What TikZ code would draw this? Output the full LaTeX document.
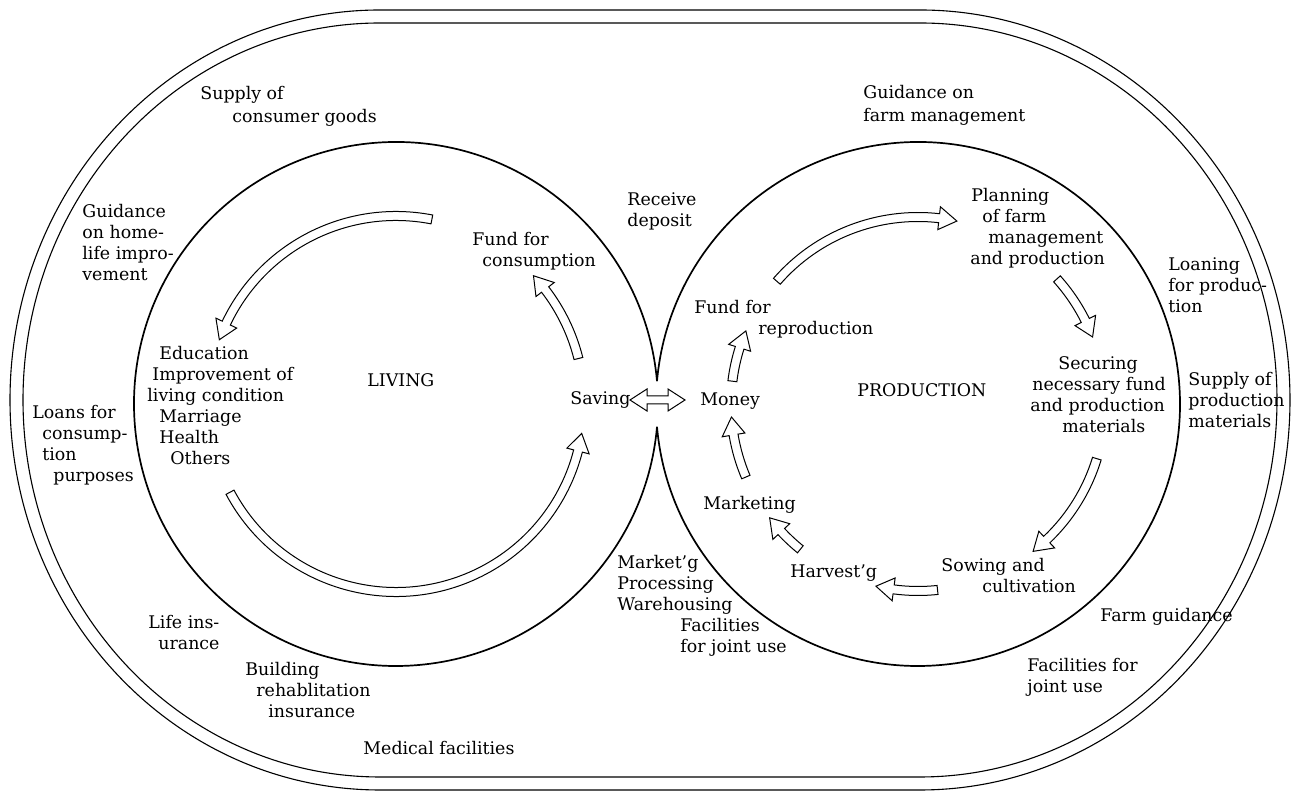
\documentclass[tikz,border=0pt]{standalone}
\usepackage{fontspec}
\setmainfont{DejaVu Serif}
\usetikzlibrary{calc}

% hollow block arrow running along an arc: centre, radius, start angle, end angle (head)
\newcommand\cyclearrow[4]{%
  \pgfmathsetmacro\arrS{#3}%
  \pgfmathsetmacro\arrE{#4}%
  \pgfmathsetmacro\arrB{#4-sign(#4-#3)*18/#2*180/pi}%
  \pgfmathsetmacro\arrRo{#2+4.5}%
  \pgfmathsetmacro\arrRi{#2-4.5}%
  \pgfmathsetmacro\arrHo{#2+11.5}%
  \pgfmathsetmacro\arrHi{#2-11.5}%
  \draw[flow] ($(#1)+(\arrS:\arrRo)$) arc[start angle=\arrS, end angle=\arrB, radius=\arrRo]
    -- ($(#1)+(\arrB:\arrHo)$) -- ($(#1)+(\arrE:#2)$) -- ($(#1)+(\arrB:\arrHi)$)
    -- ($(#1)+(\arrB:\arrRi)$) arc[start angle=\arrB, end angle=\arrS, radius=\arrRi] -- cycle;
}

\begin{document}
\begin{tikzpicture}[x=0.5pt, y=0.5pt,
  % multi-line labels are placed by the baseline of their last line
  lbl/.style={inner sep=0pt, anchor=base west, align=left,
              font=\fontsize{8.7}{10.5}\selectfont},
  ring/.style={line width=0.85pt},
  rim/.style={line width=0.55pt},
  flow/.style={line width=0.5pt, fill=white, line join=miter}]
\useasboundingbox (0,0) rectangle (1298,796);

% centres of the two cycles
\coordinate (cl) at (396,392);
\coordinate (cp) at (918,392);

% double outer border
\draw[rim] (380,786) -- (920,786)
  arc[start angle=90, end angle=-90, x radius=370, y radius=390]
  -- (380,6)
  arc[start angle=270, end angle=90, x radius=370, y radius=390] -- cycle;
\draw[rim] (380,773) -- (920,773)
  arc[start angle=90, end angle=-90, x radius=357, y radius=377]
  -- (380,19)
  arc[start angle=270, end angle=90, x radius=357, y radius=377] -- cycle;

% the two cycles, meeting in a cusp
\draw[ring] (cl) ++(5:262) arc[start angle=5, end angle=355, radius=262];
\draw[ring] (cp) ++(185:262) arc[start angle=185, end angle=535, radius=262];

% living cycle
\cyclearrow{cl}{188}{14}{43}
\cyclearrow{cl}{188}{79}{160}
\cyclearrow{cl}{188}{208}{351}

% production cycle
\cyclearrow{cp}{187}{173}{157}
\cyclearrow{cp}{187}{139}{78}
\cyclearrow{cp}{187}{42}{21}
\cyclearrow{cp}{187}{-17}{-52}
\cyclearrow{cp}{187}{-84}{-103}
\cyclearrow{cp}{187}{-129}{-142.5}
\cyclearrow{cp}{187}{-157}{-176}

% labels
\node[lbl] (supplycons) at (200,673) {Supply of\\[1pt]\hspace*{16pt}consumer goods};
\node[lbl] (guidhome) at (82,515) {Guidance\\on home-\\life impro-\\vement};
\node[lbl] (loans) at (32,314) {Loans for\\\hspace*{5pt}consump-\\\hspace*{5pt}tion\\\hspace*{10.5pt}purposes};
\node[lbl] (educ) at (147,331) {\hspace*{6pt}Education\\\hspace*{2.5pt}Improvement of\\living condition\\\hspace*{6pt}Marriage\\\hspace*{6pt}Health\\\hspace*{11.5pt}Others};
\node[lbl] (living) at (367,409) {LIVING};
\node[lbl] (fundcons) at (472,529) {Fund for\\\hspace*{5pt}consumption};
\node[lbl] (receive) at (627,569) {Receive\\deposit};
\node[lbl] (saving) at (570,391) {Saving};
\node[lbl] (money) at (700,390) {Money};
\node[lbl] (fundrepro) at (694,461) {Fund for\\\hspace*{32pt}reproduction};
\node[lbl] (production) at (857,399) {PRODUCTION};
\node[lbl] (guidfarm) at (863,674) {Guidance on\\[1pt]farm management};
\node[lbl] (planning) at (970,531) {\hspace*{0.5pt}Planning\\\hspace*{6pt}of farm\\\hspace*{9pt}management\\and production};
\node[lbl] (loaning) at (1168,483) {Loaning\\for produc-\\tion};
\node[lbl] (securing) at (1030,363) {\hspace*{14pt}Securing\\\hspace*{1pt}necessary fund\\and production\\\hspace*{16pt}materials};
\node[lbl] (supplyprod) at (1188,368) {Supply of\\production\\materials};
\node[lbl] (sowing) at (941,203) {Sowing and\\\hspace*{20.5pt}cultivation};
\node[lbl] (farmguid) at (1100,174) {Farm guidance};
\node[lbl] (facright) at (1027,103) {Facilities for\\joint use};
\node[lbl] (marketing) at (703,286) {Marketing};
\node[lbl] (harvest) at (790,218) {Harvest'g};
\node[lbl] (marketg) at (617,143) {Market'g\\Processing\\Warehousing\\\hspace*{31.5pt}Facilities\\\hspace*{31.5pt}for joint use};
\node[lbl] (lifeins) at (148,146) {Life ins-\\\hspace*{5pt}urance};
\node[lbl] (building) at (245,78) {Building\\\hspace*{5.5pt}rehablitation\\\hspace*{11.5pt}insurance};
\node[lbl] (medical) at (363,41) {Medical facilities};

% two-way arrow between saving and money
\coordinate (swL) at (630,396);
\coordinate (swR) at (685,396);
\draw[flow] (swL) -- ++(17,11) -- ++(0,-7) -- ($(swR)+(-17,4)$) -- ++(0,7) -- (swR)
  -- ++(-17,-11) -- ++(0,7) -- ($(swL)+(17,-4)$) -- ++(0,-7) -- cycle;
\end{tikzpicture}
\end{document}
